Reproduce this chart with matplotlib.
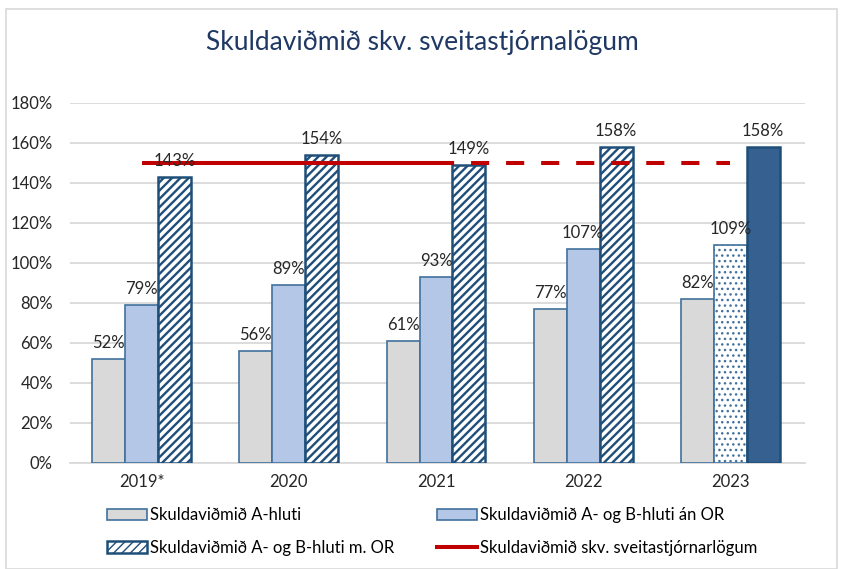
import numpy as np
import matplotlib
matplotlib.use("Agg")
import matplotlib.pyplot as plt
from matplotlib.patches import Rectangle
from matplotlib.lines import Line2D

plt.rcParams['font.family'] = ['Lato', 'DejaVu Sans']

# data
years = ['2019*', '2020', '2021', '2022', '2023']
a_hluti = [52, 56, 61, 77, 82]
ab_an_or = [79, 89, 93, 107, 109]
ab_m_or = [143, 154, 149, 158, 158]
vidmid = [150, 150, 150, 150, 150]

gray = '#D9D9D9'
light_blue = '#B4C7E7'
edge_blue = '#41719C'
navy = '#1F4E79'
dark_fill = '#36608F'
red = '#C00000'

fig = plt.figure(figsize=(8.45, 5.69), dpi=100)
ax = fig.add_axes([0.0824, 0.1863, 0.8706, 0.6327])

x = np.arange(len(years))
w = 0.224

# bars
b1 = ax.bar(x - w, a_hluti, w, color=gray, edgecolor=edge_blue, linewidth=1.2, zorder=3)
b2 = ax.bar(x[:4], ab_an_or[:4], w, color=light_blue, edgecolor=edge_blue, linewidth=1.2, zorder=3)
with plt.rc_context({'hatch.linewidth': 1.0}):
    b2b = ax.bar(x[4:], ab_an_or[4:], w, color='white', edgecolor=edge_blue, hatch='...',
                 linewidth=1.2, zorder=3)
with plt.rc_context({'hatch.linewidth': 1.7}):
    b3 = ax.bar(x[:4] + w, ab_m_or[:4], w, color='white', edgecolor=navy, hatch='////',
                linewidth=1.8, zorder=3)
b3b = ax.bar(x[4:] + w, ab_m_or[4:], w, color=dark_fill, edgecolor=navy, linewidth=1.8, zorder=3)

# legal limit line: solid up to 2021, dashed after
ax.plot(x[:3], vidmid[:3], color=red, lw=2.9, solid_capstyle='butt', zorder=4)
ax.plot(x[2:], vidmid[2:], color=red, lw=2.9, dashes=(4.5, 4.2), dash_capstyle='butt', zorder=4)

# data labels
for xs, vals in [(x - w, a_hluti), (x, ab_an_or), (x + w, ab_m_or)]:
    for xi, v in zip(xs, vals):
        ax.text(xi, v + 4, f'{v}%', ha='center', va='bottom', fontsize=12, color='#262626', zorder=5)

ax.set_xlim(-0.49, 4.51)
ax.set_ylim(0, 180)
ax.set_yticks(np.arange(0, 181, 20))
ax.set_yticklabels([f'{t}%' for t in range(0, 181, 20)])
ax.set_xticks(x)
ax.set_xticklabels(years)
ax.tick_params(axis='both', length=0, labelsize=12, colors='#262626')
ax.tick_params(axis='x', pad=8)
ax.tick_params(axis='y', pad=12)
ax.grid(axis='y', color='#D9D9D9', linewidth=1.3, zorder=0)
for s in ['top', 'right', 'left']:
    ax.spines[s].set_visible(False)
ax.spines['bottom'].set_color('#D9D9D9')
ax.spines['bottom'].set_linewidth(1.3)

fig.text(0.5, 0.925, 'Skuldaviðmið skv. sveitastjórnalögum', ha='center', va='center',
         fontsize=19, color='#1F3864')

# legend
red_handle = Line2D([0], [0], color=red, lw=2.9)
handles = [b1[0], b3[0], b2[0], red_handle]
labels = ['Skuldaviðmið A-hluti', 'Skuldaviðmið A- og B-hluti m. OR',
          'Skuldaviðmið A- og B-hluti án OR', 'Skuldaviðmið skv. sveitastjórnarlögum']
fig.legend(handles, labels, ncol=2, loc='upper left', bbox_to_anchor=(0.119, 0.12),
           frameon=False, fontsize=12, handlelength=2.4, handleheight=0.7,
           handletextpad=0.15, columnspacing=2.6, labelspacing=1.0, borderaxespad=0)

# outer border
fig.patches.append(Rectangle((0.007, 0.0), 0.984, 0.985, transform=fig.transFigure,
                             fill=False, edgecolor='#D9D9D9', linewidth=1.2))

fig.savefig('out.png', dpi=100)
